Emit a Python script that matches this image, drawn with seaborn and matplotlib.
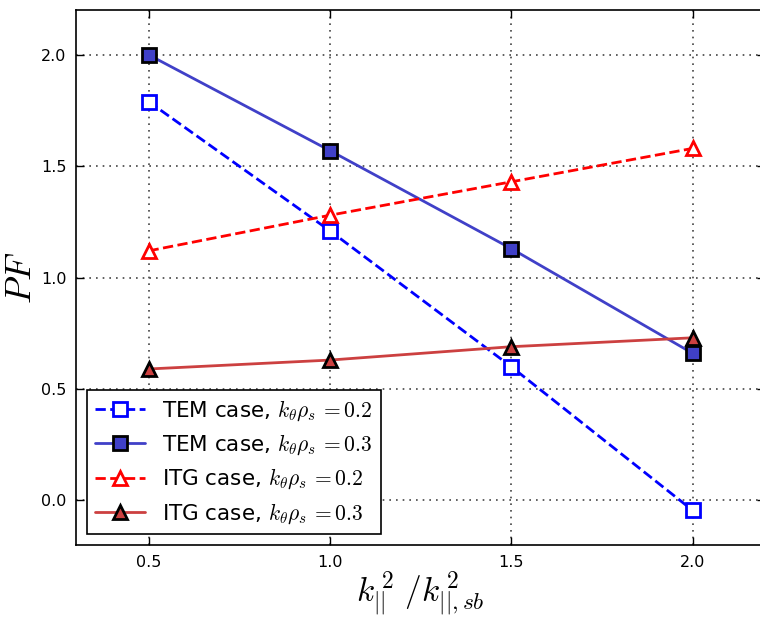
import numpy as np
import pandas as pd
import matplotlib
matplotlib.use('Agg')
import matplotlib.pyplot as plt
import seaborn as sns

sns.set_style('ticks')
plt.rcParams['font.family'] = ['DejaVu Sans']
plt.rcParams['mathtext.fontset'] = 'cm'
plt.rcParams['text.color'] = 'black'
plt.rcParams['axes.labelcolor'] = 'black'

k_ratio = [0.5, 1.0, 1.5, 2.0]
tem_02 = [1.79, 1.21, 0.60, -0.045]
tem_03 = [2.00, 1.57, 1.13, 0.66]
itg_02 = [1.12, 1.28, 1.43, 1.58]
itg_03 = [0.59, 0.63, 0.69, 0.73]

labels = [r'TEM case, $k_\theta\rho_s\,=0.2$', r'TEM case, $k_\theta\rho_s\,=0.3$',
          r'ITG case, $k_\theta\rho_s\,=0.2$', r'ITG case, $k_\theta\rho_s\,=0.3$']

fig = plt.figure(figsize=(7.6, 6.19), dpi=100)
ax = fig.add_axes([0.1, 0.1195, 0.907, 0.864])

sns.lineplot(ax=ax, x=k_ratio, y=tem_02, color='#0000ff', linestyle='--', lw=2,
             marker='s', markersize=10, markerfacecolor='white', markeredgecolor='#0000ff',
             markeredgewidth=2, label=labels[0])
sns.lineplot(ax=ax, x=k_ratio, y=tem_03, color='#4040c8', linestyle='-', lw=2,
             marker='s', markersize=10, markerfacecolor='#4040c8', markeredgecolor='black',
             markeredgewidth=2, label=labels[1])
sns.lineplot(ax=ax, x=k_ratio, y=itg_02, color='#ff0000', linestyle='--', lw=2,
             marker='^', markersize=10, markerfacecolor='white', markeredgecolor='#ff0000',
             markeredgewidth=2, label=labels[2])
sns.lineplot(ax=ax, x=k_ratio, y=itg_03, color='#cc4040', linestyle='-', lw=2,
             marker='^', markersize=10, markerfacecolor='#cc4040', markeredgecolor='black',
             markeredgewidth=2, label=labels[3])

ax.set_xlim(0.3, 2.2)
ax.set_ylim(-0.2, 2.2)
ax.set_xticks([0.5, 1.0, 1.5, 2.0])
ax.set_yticks([0.0, 0.5, 1.0, 1.5, 2.0])
ax.set_xticklabels(['0.5', '1.0', '1.5', '2.0'])
ax.set_yticklabels(['0.0', '0.5', '1.0', '1.5', '2.0'])
ax.tick_params(direction='in', top=True, right=True, length=6, width=1, labelsize=11.5,
               colors='black', pad=7)
for sp in ax.spines.values():
    sp.set_linewidth(1.2)
    sp.set_color('black')
ax.grid(True, linestyle=(0, (1, 3)), color='#444444', lw=1.2)
ax.set_axisbelow(True)

ax.set_xlabel(r'$k_{||}^{\,2}\ /k_{||,sb}^{\,2}$', fontsize=24, labelpad=0)
ax.set_ylabel(r'$PF$', fontsize=26, labelpad=2)

leg = ax.legend(loc='lower left', fontsize=15.5, fancybox=False, framealpha=1,
                edgecolor='black', handlelength=2.3, borderaxespad=0.5, labelspacing=0.45,
                borderpad=0.4, handletextpad=0.8, bbox_to_anchor=(0.0, 0.0))
leg.get_frame().set_linewidth(1.2)

plt.savefig('out.png', dpi=100)
plt.close()
